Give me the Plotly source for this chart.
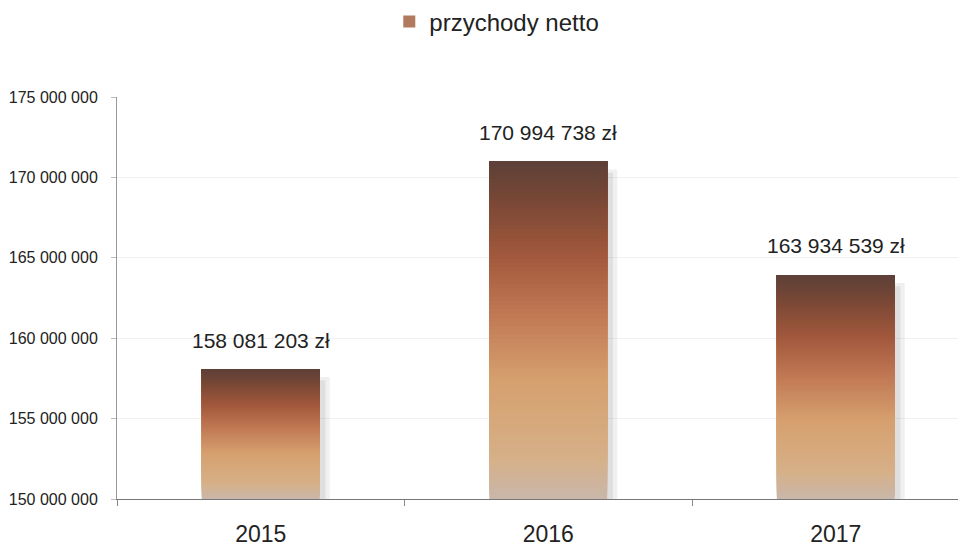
import plotly.graph_objects as go

years = ["2015", "2016", "2017"]
revenue = [158081203, 170994738, 163934539]
series_name = "przychody netto"
y_base = 150000000
y_top = 175000000
y_tick_step = 5000000

# gradient stops from bottom (0) to top (1)
grad_stops = [
    (0.00, (201, 183, 170)),
    (0.12, (214, 176, 136)),
    (0.35, (214, 160, 110)),
    (0.55, (192, 120, 84)),
    (0.72, (162, 88, 60)),
    (0.88, (122, 72, 54)),
    (1.00, (92, 64, 56)),
]


def grad_color(t):
    for (t0, c0), (t1, c1) in zip(grad_stops[:-1], grad_stops[1:]):
        if t0 <= t <= t1:
            f = (t - t0) / (t1 - t0) if t1 > t0 else 0
            return "rgb(%d,%d,%d)" % tuple(round(a + (b - a) * f) for a, b in zip(c0, c1))
    return "rgb(%d,%d,%d)" % grad_stops[-1][1]


fig = go.Figure()

# soft shadow
fig.add_trace(go.Bar(
    x=years, y=[v - 500000 - y_base for v in revenue], base=[y_base] * 3,
    width=0.435, offset=-0.195, marker=dict(color="rgba(170,170,170,0.18)", line=dict(width=0)),
    showlegend=False, hoverinfo="skip"))
fig.add_trace(go.Bar(
    x=years, y=[v - 700000 - y_base for v in revenue], base=[y_base] * 3,
    width=0.425, offset=-0.2, marker=dict(color="rgba(150,150,150,0.18)", line=dict(width=0)),
    showlegend=False, hoverinfo="skip"))

# gradient bar: nested layers, each from its base to the bar's top
N = 80
for i in range(N):
    base = [y_base + (v - y_base) * i / N for v in revenue]
    fig.add_trace(go.Bar(
        x=years, y=[v - b for v, b in zip(revenue, base)], base=base,
        width=0.41, marker=dict(color=grad_color((i + 0.5) / N), line=dict(width=0)),
        showlegend=False, hovertemplate="%{x}<extra></extra>"))

# legend entry
fig.add_trace(go.Bar(x=[None], y=[None], name=series_name,
                     marker=dict(color="rgb(178,122,92)", line=dict(width=0)),
                     showlegend=True))

for i, v in enumerate(revenue):
    fig.add_annotation(x=i, y=v, text=f"{v:,}".replace(",", " ") + " zł",
                       showarrow=False, yshift=29, yanchor="middle",
                       font=dict(size=21, color="#222222"))

fig.update_layout(
    width=966, height=557,
    margin=dict(l=109, r=8, t=89, b=66),
    paper_bgcolor="white", plot_bgcolor="white",
    barmode="overlay",
    font=dict(family="Liberation Sans, Arial, sans-serif", color="#222222"),
    separators=", ",
    showlegend=True,
    legend=dict(orientation="h", x=0.506, xref="container", xanchor="center",
                y=0.975, yref="container", yanchor="middle",
                font=dict(size=24, color="#222222"), itemwidth=30),
    xaxis=dict(type="category", range=[-0.5, 2.453], tickson="boundaries",
               ticks="outside", ticklen=6, tickcolor="#888888", showline=True,
               linecolor="#777777", linewidth=1, showgrid=False,
               ticklabelstandoff=14, automargin=False,
               tickfont=dict(size=23, color="#222222")),
    yaxis=dict(range=[y_base, y_top], dtick=y_tick_step, tick0=y_base, tickformat=",d",
               ticks="outside", ticklen=5, tickcolor="#bbbbbb", showline=True,
               linecolor="#999999", linewidth=1, showgrid=True, gridcolor="#f0f0f0",
               zeroline=False, ticklabelstandoff=10, automargin=False,
               tickfont=dict(size=16, color="#222222")),
)

fig.write_html("out.html")
